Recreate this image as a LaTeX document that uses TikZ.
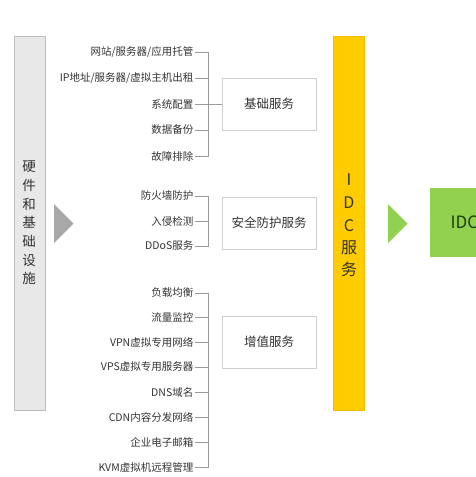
\documentclass[tikz,border=0pt]{standalone}
\usepackage{fontspec}
\setmainfont{Noto Sans CJK SC}
\definecolor{txt}{HTML}{333333}
\definecolor{lin}{HTML}{9A9A9A}
\definecolor{boxline}{HTML}{CFCFCF}
\definecolor{barfill}{HTML}{E8E8E8}
\definecolor{barline}{HTML}{BDBDBD}
\definecolor{tri}{HTML}{A8A8A8}
\definecolor{gold}{HTML}{FFCC00}
\definecolor{goldline}{HTML}{F2BE00}
\definecolor{lgreen}{HTML}{92D050}
\definecolor{dgreen}{HTML}{1F3D12}
\begin{document}
\begin{tikzpicture}[x=1pt,y=-1pt,
  item/.style={anchor=east,inner sep=1.5pt,text=txt,font=\fontsize{10.5}{12}\selectfont},
  conn/.style={draw=lin,line width=0.7pt},
  svcbox/.style={draw=boxline,line width=0.8pt,fill=white,minimum width=94pt,minimum height=52pt,text=txt,font=\fontsize{12.5}{14}\selectfont,inner sep=0pt},
  vchar/.style={text=txt,inner sep=0pt,font=\fontsize{16}{18}\selectfont}]
\useasboundingbox (0,0) rectangle (476,477);
\clip (0,0) rectangle (476,477);
\fill[white] (0,0) rectangle (476,477);

% left bar
\node[draw=barline,fill=barfill,line width=0.7pt,minimum width=31pt,minimum height=374pt,inner sep=0pt] (hw) at (29.5,223) {};
\node[text=txt,align=center,font=\fontsize{13.5}{18.7}\selectfont] (hwt) at (29,223) {硬\\件\\和\\基\\础\\设\\施};
\fill[tri] (54,204) -- (73.5,223.5) -- (54,243) -- cycle;

% group 1
\node[item] (a1) at (195,52) {网站/服务器/应用托管};
\node[item] (a2) at (195,78) {IP地址/服务器/虚拟主机出租};
\node[item] (a3) at (195,104) {系统配置};
\node[item] (a4) at (195,130) {数据备份};
\node[item] (a5) at (195,156) {故障排除};
\coordinate (b1) at (208.5,52);
\node[svcbox] (s1) at (269,104) {基础服务};
\foreach \n in {a1,a2,a4,a5} \draw[conn] (\n.east) -- (\n.east -| b1);
\draw[conn] (a3.east) -- (s1.west);
\draw[conn] (a1.east -| b1) -- (a5.east -| b1);

% group 2
\node[item] (c1) at (195,196) {防火墙防护};
\node[item] (c2) at (195,221) {入侵检测};
\node[item] (c3) at (195,246) {DDoS服务};
\node[svcbox] (s2) at (269,223) {安全防护服务};
\foreach \n in {c1,c2,c3} \draw[conn] (\n.east) -- (\n.east -| b1);
\draw[conn] (c1.east -| b1) -- (c3.east -| b1);

% group 3
\node[item] (d1) at (195,293) {负载均衡};
\node[item] (d2) at (195,317) {流量监控};
\node[item] (d3) at (195,342) {VPN虚拟专用网络};
\node[item] (d4) at (195,367) {VPS虚拟专用服务器};
\node[item] (d5) at (195,392) {DNS域名};
\node[item] (d6) at (195,417) {CDN内容分发网络};
\node[item] (d7) at (195,442) {企业电子邮箱};
\node[item] (d8) at (195,467) {KVM虚拟机远程管理};
\node[svcbox] (s3) at (269,342) {增值服务};
\foreach \n in {d1,d2,d3,d4,d5,d6,d7,d8} \draw[conn] (\n.east) -- (\n.east -| b1);
\draw[conn] (d1.east -| b1) -- (d8.east -| b1);

% IDC bar
\node[draw=goldline,fill=gold,line width=0.5pt,minimum width=31pt,minimum height=374pt,inner sep=0pt] (idc) at (348.5,223) {};
\node[vchar] (i1) at (349,180) {I};
\node[vchar] (i2) at (349,203) {D};
\node[vchar] (i3) at (349,225.5) {C};
\node[vchar] (i4) at (349,247.5) {服};
\node[vchar] (i5) at (349,269.5) {务};

% green arrow and box
\fill[lgreen] (388,204) -- (407.5,223.5) -- (388,243) -- cycle;
\node[fill=lgreen,minimum width=80pt,minimum height=69pt,inner sep=0pt,anchor=north west] (gbox) at (430,188) {};
\node[anchor=west,text=dgreen,font=\fontsize{17}{19}\selectfont,inner sep=0pt] (gt) at (450.5,222.5) {IDC};
\end{tikzpicture}
\end{document}
